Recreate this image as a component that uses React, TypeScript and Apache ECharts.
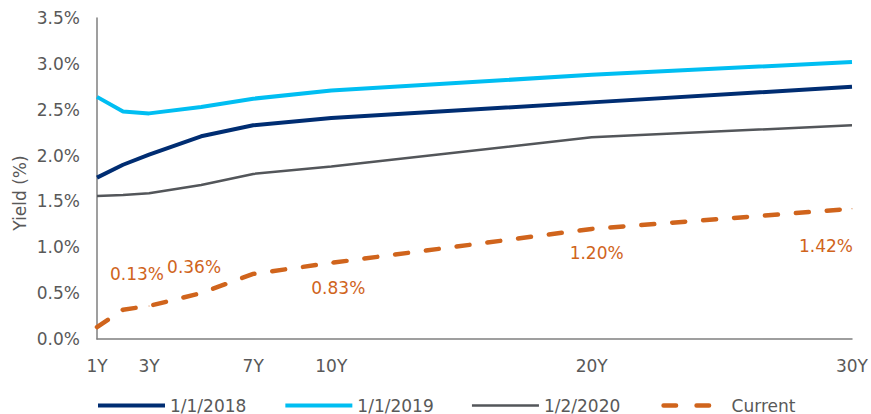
import React, { useEffect, useRef } from "react";
import * as echarts from "echarts";

const tenors = [1, 2, 3, 5, 7, 10, 20, 30];
const xTickValues = [1, 3, 7, 10, 20, 30];
const seriesNames = ["1/1/2018", "1/1/2019", "1/2/2020", "Current"];
const y2018 = [1.76, 1.9, 2.01, 2.21, 2.33, 2.41, 2.58, 2.75];
const y2019 = [2.64, 2.48, 2.46, 2.53, 2.62, 2.71, 2.88, 3.02];
const y2020 = [1.56, 1.57, 1.59, 1.68, 1.8, 1.88, 2.2, 2.33];
const yCurrent = [0.13, 0.32, 0.36, 0.5, 0.71, 0.83, 1.2, 1.42];
// which current points carry a value label, and where the label sits relative to the point
const labeledIdx = [0, 2, 5, 6, 7];
const labelOffsets: Record<number, [number, number]> = {
  0: [40, -53],
  2: [45, -39],
  5: [7, 25],
  6: [5, 24],
  7: [-26, 37],
};

const FONT = "DejaVu Sans";
const TEXT = "#595959";
const ORANGE = "#D0641C";

export default function App() {
  const ref = useRef<HTMLDivElement>(null);
  useEffect(() => {
    if (!ref.current) return;
    const chart = echarts.init(ref.current, undefined, { renderer: "svg" });
    const mk = (vals: number[]) => tenors.map((t, i) => [t, vals[i]]);
    const currentData = tenors.map((t, i) => {
      const lab = labeledIdx.includes(i);
      return {
        value: [t, yCurrent[i]],
        symbol: lab ? "circle" : "none",
        symbolSize: 1,
        label: lab ? { show: true, offset: labelOffsets[i] } : { show: false },
      };
    });
    chart.setOption({
      animation: false,
      textStyle: { fontFamily: FONT },
      grid: { left: 97, right: 19, top: 18, bottom: 75, containLabel: false },
      xAxis: {
        type: "value",
        min: 1,
        max: 30,
        axisLine: { show: true, lineStyle: { color: "#7F7F7F", width: 1.5 } },
        axisTick: { show: false },
        splitLine: { show: false },
        axisLabel: {
          customValues: xTickValues,
          formatter: (v: number) => `${v}Y`,
          color: TEXT,
          fontSize: 17,
          fontFamily: FONT,
          margin: 18,
        },
      },
      yAxis: {
        type: "value",
        min: 0,
        max: 3.5,
        interval: 0.5,
        axisLine: { show: true, lineStyle: { color: "#7F7F7F", width: 1.5 } },
        axisTick: { show: false },
        splitLine: { show: false },
        axisLabel: {
          formatter: (v: number) => `${v.toFixed(1)}%`,
          color: TEXT,
          fontSize: 17,
          fontFamily: FONT,
          margin: 17,
        },
      },
      graphic: [
        {
          type: "text",
          x: 20,
          y: 193,
          rotation: Math.PI / 2,
          style: {
            text: "Yield (%)",
            fill: TEXT,
            font: `17px "${FONT}"`,
            textAlign: "center",
            textVerticalAlign: "middle",
          },
        },
      ],
      legend: {
        left: 96,
        top: 397,
        padding: 0,
        icon: "inherit",
        itemWidth: 67,
        itemHeight: 14,
        itemGap: 37,
        itemStyle: { opacity: 0, borderWidth: 0 },
        lineStyle: { width: "inherit" },
        textStyle: { color: TEXT, fontSize: 17, fontFamily: FONT },
        data: [
          seriesNames[0],
          seriesNames[1],
          seriesNames[2],
          {
            name: seriesNames[3],
            lineStyle: { type: [12.5, 20.5, 12.5, 100], dashOffset: -4, width: 4.5 },
          },
        ],
      },
      series: [
        {
          name: seriesNames[0],
          type: "line",
          data: mk(y2018),
          symbol: "none",
          lineStyle: { color: "#002D72", width: 4 },
          itemStyle: { color: "#002D72" },
        },
        {
          name: seriesNames[1],
          type: "line",
          data: mk(y2019),
          symbol: "none",
          lineStyle: { color: "#00BEF2", width: 4 },
          itemStyle: { color: "#00BEF2" },
        },
        {
          name: seriesNames[2],
          type: "line",
          data: mk(y2020),
          symbol: "none",
          lineStyle: { color: "#53565A", width: 2.5 },
          itemStyle: { color: "#53565A" },
        },
        {
          name: seriesNames[3],
          type: "line",
          data: currentData,
          symbol: "none",
          lineStyle: { color: ORANGE, width: 4.5, type: [13, 18], cap: "round" },
          itemStyle: { color: ORANGE },
          label: {
            position: "inside",
            color: ORANGE,
            fontSize: 17,
            fontFamily: FONT,
            formatter: (p: any) => `${p.value[1].toFixed(2)}%`,
          },
        },
      ],
    });
    return () => chart.dispose();
  }, []);
  return <div ref={ref} style={{ width: 871, height: 414, position: "absolute", left: 0, top: 0 }} />;
}
